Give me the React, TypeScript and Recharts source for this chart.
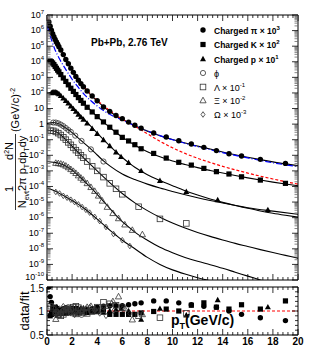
import React from "react";
import { ComposedChart, Line, XAxis, YAxis, ReferenceLine } from "recharts";

const FONT = "Liberation Sans, Arial, Helvetica, sans-serif";

// ---- spectra: pT (GeV/c) and log10 of the plotted (scaled) yield ----
const piPt = [0.15, 0.25, 0.35, 0.45, 0.55, 0.65, 0.75, 0.85, 0.95, 1.1, 1.3, 1.5, 1.7, 1.9, 2.1, 2.3, 2.5, 2.7, 2.9, 3.2, 3.6, 4.0, 4.5, 5.0, 5.5, 6.0, 6.5, 7.0, 7.5, 8.5, 9.5, 10.5, 11.5, 12.5, 13.5, 14.5, 15.5, 17, 19];
const piLog = [6.55, 6.28, 6.02, 5.8, 5.6, 5.43, 5.27, 5.12, 4.97, 4.75, 4.46, 4.15, 3.87, 3.59, 3.32, 3.06, 2.82, 2.6, 2.4, 2.12, 1.8, 1.5, 1.1, 0.82, 0.55, 0.35, 0.13, -0.07, -0.26, -0.57, -0.83, -1.07, -1.28, -1.49, -1.7, -1.9, -2.05, -2.26, -2.52];

const kPt = [0.25, 0.35, 0.45, 0.55, 0.65, 0.75, 0.85, 0.95, 1.1, 1.3, 1.5, 1.7, 1.9, 2.1, 2.3, 2.5, 2.7, 2.9, 3.2, 3.6, 4.0, 4.5, 5.0, 5.5, 6.0, 6.5, 7.0, 7.5, 8.5, 9.5, 10.5, 11.5, 12.5, 13.5, 14.5, 15.5, 17, 19];
const kLog = [4.05, 4.0, 3.92, 3.82, 3.7, 3.58, 3.46, 3.35, 3.18, 2.96, 2.74, 2.52, 2.3, 2.1, 1.9, 1.7, 1.52, 1.34, 1.08, 0.78, 0.48, 0.14, -0.2, -0.52, -0.85, -1.08, -1.32, -1.58, -1.88, -2.18, -2.45, -2.63, -2.84, -3.05, -3.2, -3.38, -3.59, -3.8];

const pPt = [0.35, 0.45, 0.55, 0.65, 0.75, 0.85, 0.95, 1.1, 1.3, 1.5, 1.7, 1.9, 2.1, 2.3, 2.5, 2.7, 2.9, 3.2, 3.6, 4.0, 4.5, 5.0, 5.5, 5.9, 6.5, 7.5, 9.0, 11.1, 13.6, 17.6];
const pLog = [2.0, 2.03, 2.05, 2.05, 2.02, 1.98, 1.93, 1.82, 1.66, 1.5, 1.33, 1.15, 0.98, 0.8, 0.62, 0.45, 0.3, 0.05, -0.3, -0.62, -1.02, -1.4, -1.8, -2.1, -2.48, -3.0, -3.63, -4.34, -4.87, -5.5];

const phiPt = [0.5, 0.7, 0.9, 1.1, 1.3, 1.5, 1.7, 1.9, 2.25, 2.75, 3.5, 4.5];
const phiLog = [0.1, 0.1, 0.05, -0.03, -0.13, -0.25, -0.38, -0.5, -0.74, -1.08, -1.62, -2.4];

const lamPt = [0.3, 0.5, 0.7, 0.9, 1.1, 1.3, 1.5, 1.7, 1.9, 2.1, 2.3, 2.5, 2.7, 2.9, 3.2, 3.6, 4.0, 4.5, 5.0, 5.5, 6.0, 7.3, 9.0, 11.1];
const lamLog = [-0.42, -0.43, -0.5, -0.58, -0.7, -0.85, -1.0, -1.17, -1.33, -1.5, -1.67, -1.83, -2.0, -2.15, -2.4, -2.7, -3.0, -3.4, -3.8, -4.15, -4.5, -5.3, -6.08, -6.37];

const xiPt = [0.7, 0.9, 1.1, 1.3, 1.5, 1.7, 1.9, 2.1, 2.3, 2.5, 2.7, 2.9, 3.2, 3.5, 3.8, 4.1, 4.4, 4.8, 5.25, 5.7, 6.2, 6.8, 7.6];
const xiLog = [-2.5, -2.52, -2.55, -2.6, -2.68, -2.78, -2.9, -3.02, -3.15, -3.3, -3.45, -3.58, -3.8, -4.05, -4.3, -4.6, -4.92, -5.32, -5.72, -6.05, -6.45, -6.8, -7.08];

const omPt = [0.7, 1.0, 1.3, 1.6, 1.9, 2.2, 2.5, 2.8, 3.1, 3.4, 3.8, 4.2, 4.7, 5.3, 6.0, 6.6];
const omLog = [-4.35, -4.45, -4.6, -4.72, -4.85, -5.0, -5.15, -5.32, -5.5, -5.68, -5.95, -6.22, -6.6, -7.05, -7.45, -7.82];

// ---- fit curves ----
const piFitPt = [0, 0.25, 0.5, 0.75, 1, 1.5, 2, 2.5, 3, 3.5, 4, 4.5, 5, 5.5, 6, 7, 8, 9, 10, 11, 12, 13, 14, 15, 16, 17, 18, 19, 20];
const piFitLog = [6.8, 6.28, 5.72, 5.27, 4.9, 4.15, 3.46, 2.82, 2.3, 1.86, 1.48, 1.12, 0.81, 0.54, 0.31, -0.1, -0.45, -0.74, -0.99, -1.21, -1.41, -1.6, -1.79, -1.97, -2.13, -2.28, -2.42, -2.55, -2.66];

const redPt = [0, 0.25, 0.5, 1, 1.5, 2, 2.5, 3, 3.5, 4, 4.5, 5, 5.5, 6, 6.5, 7, 7.5, 8, 9, 10, 11, 12, 13, 14, 15, 16, 17, 18, 19, 20];
const redLog = [6.85, 6.32, 5.76, 4.92, 4.17, 3.48, 2.86, 2.34, 1.91, 1.53, 1.19, 0.87, 0.58, 0.31, 0.08, -0.14, -0.37, -0.62, -1.1, -1.52, -1.88, -2.19, -2.46, -2.71, -2.93, -3.14, -3.34, -3.52, -3.69, -3.85];

const bluePt = [0, 0.3, 0.6, 1, 1.5, 2, 2.5, 3, 3.5, 4, 4.5, 5, 5.5, 6, 7, 8, 9, 10, 11, 12, 13, 14, 15, 16, 17, 18, 19, 20];
const blueLog = [6.35, 5.55, 4.85, 4.18, 3.5, 2.88, 2.35, 1.88, 1.5, 1.16, 0.87, 0.63, 0.43, 0.26, -0.1, -0.44, -0.74, -1.0, -1.23, -1.44, -1.64, -1.83, -2.01, -2.17, -2.33, -2.48, -2.61, -2.73];

const kFitPt = [0, 0.25, 0.5, 1, 1.5, 2, 2.5, 3, 3.5, 4, 4.5, 5, 5.5, 6, 6.5, 7, 8, 9, 10, 11, 12, 13, 14, 15, 16, 17, 18, 19, 20];
const kFitLog = [4.1, 4.07, 3.88, 3.3, 2.76, 2.2, 1.72, 1.28, 0.87, 0.49, 0.13, -0.21, -0.54, -0.84, -1.1, -1.35, -1.77, -2.1, -2.37, -2.59, -2.79, -2.97, -3.14, -3.3, -3.45, -3.59, -3.72, -3.84, -3.95];

const pFitPt = [0, 0.5, 1, 1.5, 2, 2.5, 3, 3.5, 4, 4.5, 5, 5.5, 6, 6.5, 7, 8, 9, 10, 11, 12, 13, 14, 15, 16, 17, 18, 19, 20];
const pFitLog = [1.98, 2.04, 1.88, 1.55, 1.12, 0.7, 0.28, -0.15, -0.58, -1.0, -1.4, -1.78, -2.14, -2.47, -2.77, -3.25, -3.62, -3.95, -4.27, -4.55, -4.8, -5.02, -5.22, -5.4, -5.57, -5.72, -5.85, -5.97];

const phiFitPt = [0, 0.5, 1, 1.5, 2, 2.5, 3, 3.5, 4, 4.5, 5, 6, 7, 8, 9, 10, 12, 14, 16, 18, 20];
const phiFitLog = [0.05, 0.1, 0.0, -0.25, -0.55, -0.9, -1.25, -1.6, -1.98, -2.36, -2.68, -3.2, -3.56, -3.85, -4.1, -4.32, -4.72, -5.06, -5.36, -5.58, -5.78];

const lamFitPt = [0, 0.5, 1, 1.5, 2, 2.5, 3, 3.5, 4, 4.5, 5, 6, 7, 8, 9, 10, 11, 12, 13, 14, 15, 16, 17, 18, 19, 20];
const lamFitLog = [-0.4, -0.43, -0.63, -1.0, -1.42, -1.83, -2.23, -2.62, -3.0, -3.38, -3.75, -4.45, -5.05, -5.55, -5.98, -6.35, -6.67, -6.95, -7.2, -7.43, -7.65, -7.85, -8.05, -8.24, -8.42, -8.6];

const xiFitPt = [0, 0.5, 1, 1.5, 2, 2.5, 3, 3.5, 4, 4.5, 5, 5.5, 6, 6.5, 7, 8, 9, 10, 11, 12, 13, 14, 15, 16, 17, 18];
const xiFitLog = [-2.4, -2.45, -2.53, -2.68, -2.95, -3.3, -3.68, -4.07, -4.5, -4.95, -5.4, -5.85, -6.25, -6.6, -6.93, -7.45, -7.9, -8.25, -8.55, -8.8, -9.02, -9.25, -9.5, -9.75, -10.0, -10.25];

const omFitPt = [0, 0.5, 1, 1.5, 2, 2.5, 3, 3.5, 4, 4.5, 5, 5.5, 6, 7, 8, 9, 10, 11, 12, 13, 14];
const omFitLog = [-4.1, -4.25, -4.45, -4.67, -4.9, -5.15, -5.43, -5.75, -6.1, -6.45, -6.8, -7.13, -7.45, -8.0, -8.55, -9.0, -9.35, -9.62, -9.85, -10.05, -10.25];

// ---- data / fit ratios (same pT as the spectra) ----
const piRatio = [1.5, 1.3, 1.18, 1.08, 1.0, 0.95, 0.93, 0.95, 0.98, 1.02, 1.05, 1.07, 1.05, 1.03, 1.0, 0.98, 0.97, 0.98, 1.0, 1.03, 1.05, 1.08, 1.1, 1.11, 1.11, 1.11, 1.13, 1.15, 1.17, 1.21, 1.21, 1.17, 1.13, 1.1, 1.08, 1.0, 0.93, 0.86, 0.8];
const kRatio = [0.9, 0.95, 1.0, 1.05, 1.08, 1.05, 1.0, 0.97, 0.95, 0.95, 0.97, 1.0, 1.02, 1.05, 1.05, 1.03, 1.0, 0.98, 0.97, 0.98, 1.0, 1.02, 0.93, 0.93, 0.93, 0.93, 0.93, 0.96, 0.99, 1.04, 1.0, 1.12, 1.17, 1.08, 1.04, 1.13, 1.04, 1.21];
const pRatio = [0.92, 0.97, 1.02, 1.06, 1.08, 1.06, 1.03, 1.0, 0.97, 0.95, 0.95, 0.97, 1.0, 1.03, 1.05, 1.06, 1.05, 1.02, 1.0, 0.98, 0.97, 1.0, 1.03, 1.05, 1.0, 0.82, 1.05, 0.91, 1.23, 1.08];
const phiRatio = [1.05, 0.97, 0.92, 0.95, 1.0, 1.05, 1.08, 1.03, 0.97, 0.92, 1.0, 1.08];
const lamRatio = [1.1, 1.05, 0.97, 0.92, 0.9, 0.93, 0.97, 1.02, 1.05, 1.08, 1.1, 1.07, 1.02, 0.97, 0.95, 1.0, 1.08, 1.18, 1.15, 1.12, 1.07, 0.9, 0.86, 0.95];
const xiRatio = [0.83, 0.92, 0.97, 1.02, 1.05, 1.03, 0.98, 0.95, 0.93, 0.95, 1.0, 1.05, 1.08, 1.1, 1.05, 1.0, 1.02, 1.1, 1.2, 1.3, 1.05, 0.82, 0.93];
const omRatio = [0.95, 1.05, 1.1, 1.05, 0.97, 0.92, 0.95, 1.0, 1.05, 1.08, 1.02, 0.95, 0.9, 1.0, 1.05, 0.95];

// ---- axes ----
const logDecades = [-10, -9, -8, -7, -6, -5, -4, -3, -2, -1, 0, 1, 2, 3, 4, 5, 6, 7];
const xMajor = [0, 2, 4, 6, 8, 10, 12, 14, 16, 18, 20];
const ratioMajor = [0.5, 1, 1.5];

const xTicks: number[] = [];
for (let i = 0; i <= 50; i++) xTicks.push(+(i * 0.4).toFixed(1));
const yLogTicks: number[] = [];
logDecades.forEach((e) => {
  yLogTicks.push(Math.pow(10, e));
  if (e < 7) for (let m = 2; m <= 9; m++) yLogTicks.push(m * Math.pow(10, e));
});
const ratioTicks: number[] = [];
for (let i = 0; i <= 10; i++) ratioTicks.push(+(0.5 + i * 0.1).toFixed(1));

const spec = (pt: number[], lg: number[]) => pt.map((x, i) => ({ x, y: Math.pow(10, lg[i]) }));
const rat = (pt: number[], r: number[]) => pt.map((x, i) => ({ x, y: r[i] }));

const isMajorX = (v: number) => xMajor.some((m) => Math.abs(m - v) < 1e-6);

const drawMarker = (kind: string, cx: number, cy: number, key: any) => {
  const open = { fill: "none", stroke: "#333", strokeWidth: 0.8 };
  switch (kind) {
    case "pi":
      return <circle key={key} cx={cx} cy={cy} r={2.7} fill="#000" />;
    case "k":
      return <rect key={key} x={cx - 2.6} y={cy - 2.6} width={5.2} height={5.2} fill="#000" />;
    case "p":
      return <polygon key={key} points={`${cx},${cy - 3.2} ${cx - 3},${cy + 2.2} ${cx + 3},${cy + 2.2}`} fill="#000" />;
    case "phi":
      return <circle key={key} cx={cx} cy={cy} r={2.6} {...open} />;
    case "lam":
      return <rect key={key} x={cx - 2.8} y={cy - 2.8} width={5.6} height={5.6} {...open} />;
    case "xi":
      return <polygon key={key} points={`${cx},${cy - 3.3} ${cx - 3.1},${cy + 2.3} ${cx + 3.1},${cy + 2.3}`} {...open} />;
    default:
      return <polygon key={key} points={`${cx},${cy - 2.8} ${cx + 2},${cy} ${cx},${cy + 2.8} ${cx - 2},${cy}`} {...open} />;
  }
};

const dotOf = (kind: string) => (props: any) => {
  const { cx, cy, index } = props;
  if (cx == null || cy == null || isNaN(cx) || isNaN(cy)) return <g key={`${kind}-${index}`} />;
  return drawMarker(kind, cx, cy, `${kind}-${index}`);
};

const XTick = (props: any) => {
  const { x, y, payload, side, labels } = props;
  const major = isMajorX(payload.value);
  const len = major ? 6 : 3;
  const dir = side === "top" ? 1 : -1;
  return (
    <g>
      <line x1={x} x2={x} y1={y} y2={y + dir * len} stroke="#000" strokeWidth={0.8} />
      {labels && major && (
        <text x={x} y={y + 10} textAnchor="middle" fontSize={10} fontWeight="bold" fontFamily={FONT} fill="#000">
          {payload.value}
        </text>
      )}
    </g>
  );
};

const LogTick = (props: any) => {
  const { x, y, payload, side } = props;
  const lg = Math.log10(payload.value);
  const e = Math.round(lg);
  const major = Math.abs(lg - e) < 1e-6;
  const dir = side === "right" ? -1 : 1;
  const len = major ? 6 : 3.5;
  // the lowest label sits right on the panel edge, keep it clear of the ratio panel
  const dy = e === -10 ? 0 : 2.5;
  return (
    <g>
      <line x1={x} x2={x + dir * len} y1={y} y2={y} stroke={major ? "#000" : "#666"} strokeWidth={0.8} />
      {side !== "right" && major && (
        <text x={x - 3} y={y + dy} textAnchor="end" fontSize={9} fontFamily={FONT} fill="#000">
          {e === 0 ? "1" : e === 1 ? "10" : (
            <>
              10<tspan fontSize={6} dy={-4}>{e}</tspan>
            </>
          )}
        </text>
      )}
    </g>
  );
};

const RatioTick = (props: any) => {
  const { x, y, payload, side } = props;
  const major = ratioMajor.some((m) => Math.abs(m - payload.value) < 1e-6);
  const dir = side === "right" ? -1 : 1;
  const len = major ? 6 : 3;
  return (
    <g>
      <line x1={x} x2={x + dir * len} y1={y} y2={y} stroke="#000" strokeWidth={0.8} />
      {side !== "right" && major && (
        <text x={x - 3} y={y + (payload.value > 1.4 ? 5 : 4)} textAnchor="end" fontSize={10} fontFamily={FONT} fill="#000">
          {payload.value}
        </text>
      )}
    </g>
  );
};

const axisBase = { tickSize: 0, tickMargin: 0, tickLine: false, axisLine: { stroke: "#000", strokeWidth: 1 }, interval: 0 as const };

const fit = (pt: number[], lg: number[], key: string) => (
  <Line key={key} data={spec(pt, lg)} dataKey="y" type="monotone" stroke="#000" strokeWidth={1.1} dot={false} activeDot={false} isAnimationActive={false} legendType="none" />
);
const pts = (pt: number[], lg: number[], kind: string) => (
  <Line key={kind} data={spec(pt, lg)} dataKey="y" stroke="none" strokeWidth={0} dot={dotOf(kind)} activeDot={false} isAnimationActive={false} legendType="none" />
);
const rpts = (pt: number[], r: number[], kind: string) => (
  <Line key={kind} data={rat(pt, r)} dataKey="y" stroke="none" strokeWidth={0} dot={dotOf(kind)} activeDot={false} isAnimationActive={false} legendType="none" />
);

const legendRows: { kind: string; y: number; bold: boolean; text: React.ReactNode }[] = [
  { kind: "pi", y: 30, bold: true, text: <>Charged π × 10<tspan fontSize={6} dy={-4}>3</tspan></> },
  { kind: "k", y: 44.5, bold: true, text: <>Charged K × 10<tspan fontSize={6} dy={-4}>2</tspan></> },
  { kind: "p", y: 59, bold: true, text: <>Charged p × 10<tspan fontSize={6} dy={-4}>1</tspan></> },
  { kind: "phi", y: 73, bold: false, text: <>ϕ</> },
  { kind: "lam", y: 87, bold: false, text: <>Λ × 10<tspan fontSize={6} dy={-4}>-1</tspan></> },
  { kind: "xi", y: 100.5, bold: false, text: <>Ξ × 10<tspan fontSize={6} dy={-4}>-2</tspan></> },
  { kind: "om", y: 114.5, bold: false, text: <>Ω × 10<tspan fontSize={6} dy={-4}>-3</tspan></> },
];

export default function App() {
  return (
    <div style={{ position: "absolute", left: 0, top: 0, width: 315, height: 360, background: "#fff", fontFamily: FONT }}>
      <div style={{ position: "absolute", left: 0, top: 0 }}>
        <ComposedChart width={315} height={290} margin={{ top: 0, right: 0, bottom: 0, left: 0 }}>
          <XAxis type="number" dataKey="x" domain={[0, 20]} allowDataOverflow ticks={xTicks} height={10} {...axisBase} tick={<XTick side="bottom" />} />
          <XAxis xAxisId="top" orientation="top" type="number" dataKey="x" domain={[0, 20]} allowDataOverflow ticks={xTicks} height={15} {...axisBase} tick={<XTick side="top" />} />
          <YAxis type="number" scale="log" domain={[1e-10, 1e7]} allowDataOverflow ticks={yLogTicks} width={47} {...axisBase} tick={<LogTick side="left" />} />
          <YAxis yAxisId="r" orientation="right" type="number" scale="log" domain={[1e-10, 1e7]} allowDataOverflow ticks={yLogTicks} width={17} {...axisBase} tick={<LogTick side="right" />} />
          {fit(piFitPt, piFitLog, "fpi")}
          {fit(kFitPt, kFitLog, "fk")}
          {fit(pFitPt, pFitLog, "fp")}
          {fit(phiFitPt, phiFitLog, "fphi")}
          {fit(lamFitPt, lamFitLog, "flam")}
          {fit(xiFitPt, xiFitLog, "fxi")}
          {fit(omFitPt, omFitLog, "fom")}
          {pts(piPt, piLog, "pi")}
          {pts(kPt, kLog, "k")}
          {pts(pPt, pLog, "p")}
          {pts(phiPt, phiLog, "phi")}
          {pts(lamPt, lamLog, "lam")}
          {pts(xiPt, xiLog, "xi")}
          {pts(omPt, omLog, "om")}
          <Line data={spec(redPt, redLog)} dataKey="y" type="monotone" stroke="#ff0000" strokeWidth={1.2} strokeDasharray="3 2" dot={false} activeDot={false} isAnimationActive={false} legendType="none" />
          <Line data={spec(bluePt, blueLog)} dataKey="y" type="monotone" stroke="#0000ff" strokeWidth={1.2} strokeDasharray="6 2 1 2" dot={false} activeDot={false} isAnimationActive={false} legendType="none" />
        </ComposedChart>
      </div>
      <div style={{ position: "absolute", left: 0, top: 282 }}>
        <ComposedChart width={315} height={78} margin={{ top: 0, right: 0, bottom: 0, left: 0 }}>
          <XAxis type="number" dataKey="x" domain={[0, 20]} allowDataOverflow ticks={xTicks} height={25} {...axisBase} tick={<XTick side="bottom" labels />} />
          <XAxis xAxisId="top" orientation="top" type="number" dataKey="x" domain={[0, 20]} allowDataOverflow ticks={xTicks} height={5} {...axisBase} tick={<XTick side="top" />} />
          <YAxis type="number" domain={[0.5, 1.5]} allowDataOverflow ticks={ratioTicks} width={47} {...axisBase} tick={<RatioTick side="left" />} />
          <YAxis yAxisId="r" orientation="right" type="number" domain={[0.5, 1.5]} allowDataOverflow ticks={ratioTicks} width={17} {...axisBase} tick={<RatioTick side="right" />} />
          <ReferenceLine y={1} stroke="#ff0000" strokeWidth={1} strokeDasharray="3 2" />
          {rpts(piPt, piRatio, "pi")}
          {rpts(kPt, kRatio, "k")}
          {rpts(pPt, pRatio, "p")}
          {rpts(phiPt, phiRatio, "phi")}
          {rpts(lamPt, lamRatio, "lam")}
          {rpts(xiPt, xiRatio, "xi")}
          {rpts(omPt, omRatio, "om")}
        </ComposedChart>
      </div>
      <svg width={315} height={360} style={{ position: "absolute", left: 0, top: 0, pointerEvents: "none" }} fontFamily={FONT}>
        <text x={91} y={46} fontSize={10} fontWeight="bold">Pb+Pb, 2.76 TeV</text>
        {legendRows.map((r) => (
          <g key={r.kind}>
            {drawMarker(r.kind, 203, r.y, "m")}
            <text x={214} y={r.y + 3.5} fontSize={r.bold ? 8.5 : 9} fontWeight={r.bold ? "bold" : "normal"}>{r.text}</text>
          </g>
        ))}
        {/* y-axis title of the spectra panel */}
        <text transform="translate(13,189) rotate(-90)" textAnchor="middle" fontSize={11}>1</text>
        <text transform="translate(13,151) rotate(-90)" textAnchor="middle" fontSize={11}>
          d<tspan fontSize={7} dy={-4}>2</tspan><tspan dy={4}>N</tspan>
        </text>
        <line x1={15.5} x2={15.5} y1={134} y2={210} stroke="#000" strokeWidth={0.8} />
        <text transform="translate(26,172) rotate(-90)" textAnchor="middle" fontSize={11}>
          N<tspan fontSize={7} dy={3}>evt</tspan><tspan dy={-3}>2π p</tspan><tspan fontSize={7} dy={3}>T</tspan><tspan dy={-3}>dp</tspan><tspan fontSize={7} dy={3}>T</tspan><tspan dy={-3}>dy</tspan>
        </text>
        <text transform="translate(19,110) rotate(-90)" textAnchor="middle" fontSize={11}>
          (GeV/c)<tspan fontSize={7} dy={-4}>-2</tspan>
        </text>
        {/* ratio panel titles */}
        <text transform="translate(29,311) rotate(-90)" textAnchor="middle" fontSize={13}>data/fit</text>
        <text x={171} y={325} fontSize={14} fontWeight="bold">
          p<tspan fontSize={9} dy={4}>T</tspan><tspan dy={-4}>(GeV/c)</tspan>
        </text>
      </svg>
    </div>
  );
}
